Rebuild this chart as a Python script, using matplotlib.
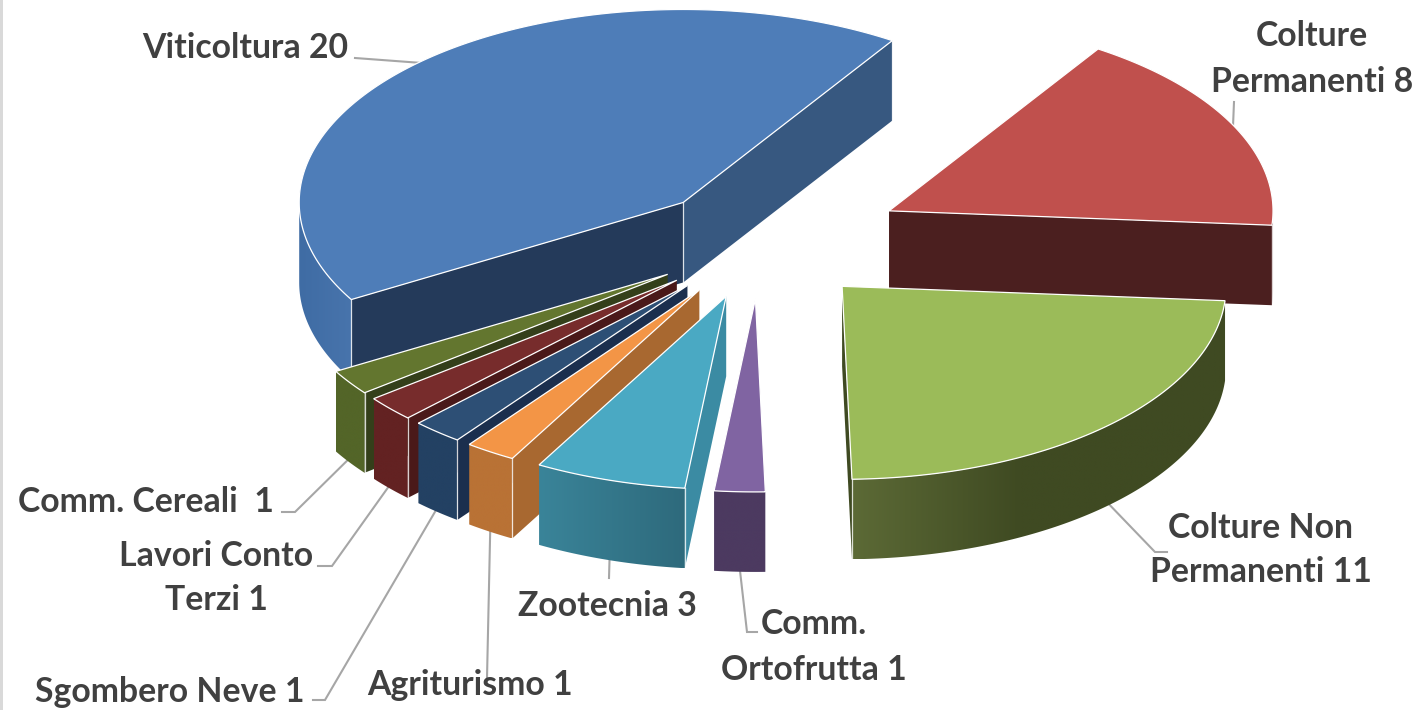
import numpy as np
import matplotlib
matplotlib.use('Agg')
import matplotlib.pyplot as plt
from matplotlib.colors import to_rgb
from matplotlib.patches import Polygon

# values, clockwise starting from Viticoltura
names = ['Viticoltura', 'Colture Permanenti', 'Colture Non Permanenti', 'Comm. Ortofrutta',
         'Zootecnia', 'Agriturismo', 'Sgombero Neve', 'Lavori Conto Terzi', 'Comm. Cereali']
values = [20, 8, 11, 1, 3, 1, 1, 1, 1]
explode = [0.29, 0.375, 0.31, 0.29, 0.29, 0.29, 0.29, 0.29, 0.29]

top_colors = ['#4e7db8', '#c0504d', '#9bbb59', '#8064a2', '#4aa9c3', '#f39546', '#2d4f75', '#772c2c', '#63762f']
# wall colour at its left and right end, and how much of the width the change takes
wall_left = ['#3f6ca4', '#4b1f1f', '#5c6a36', '#4c3a60', '#3a8499', '#b97235', '#234163', '#632222', '#536528']
wall_right = ['#4874ac', '#4b1f1f', '#3f4a22', '#4c3a60', '#2e6a7c', '#b97235', '#234163', '#632222', '#536528']
wall_fade = [1, 1, 0.45, 1, 1, 1, 1, 1, 1]
face_a = ['#243a5a', '#4b1f1f', '#4b1f1f', '#4c3a60', '#3b8ba3', '#a86830', '#1b2f4e', '#4a1919', '#343f1a']
face_b = ['#375880', '#4b1f1f', '#3f4a22', '#4c3a60', '#3b8ba3', '#a86830', '#1b2f4e', '#4a1919', '#343f1a']

# pie geometry in pixels of the output picture
CX, CY = 760, 243
RX, RY = 384, 193
DEPTH = 80
START = 210.2
draw_order = [0, 1, 2, 8, 7, 6, 5, 4, 3]

# label text, its centre, and the leader line points after the rim point
labels = ['Viticoltura 20', 'Colture\nPermanenti 8', 'Colture Non\nPermanenti 11', 'Comm.\nOrtofrutta 1',
          'Zootecnia 3', 'Agriturismo 1', 'Sgombero Neve 1', 'Lavori Conto\nTerzi 1', 'Comm. Cereali  1']
label_x = [245, 1312, 1261, 814, 607, 470, 170, 216, 146]
label_y = [48, 59, 550, 647, 606, 685, 692, 578, 502]
leader_pts = [[(355, 58)], [(1234, 102)], [(1155, 552), (1167, 552)], [(747, 632), (757, 632)],
              [(609, 578)], [(487, 678)], [(325, 700), (313, 700)], [(332, 566), (318, 566)],
              [(295, 512), (282, 512)]]

plt.rcParams['font.family'] = ['Lato', 'DejaVu Sans']


def rim(apex, t):
    t = np.radians(t)
    return apex[0] + RX * np.cos(t), apex[1] - RY * np.sin(t)


def draw_wall(ax, i, apex, ts, z):
    xs, ys = rim(apex, ts)
    outline = np.r_[np.c_[xs, ys], np.c_[xs[::-1], ys[::-1] + DEPTH]]
    frac = np.clip(np.linspace(0, 1, 256) / wall_fade[i], 0, 1)[None, :, None]
    c0, c1 = np.array(to_rgb(wall_left[i])), np.array(to_rgb(wall_right[i]))
    img = c0 + (c1 - c0) * frac
    im = ax.imshow(img, extent=(xs.min(), xs.max(), ys.max() + DEPTH, ys.min()), aspect='auto',
                   interpolation='bilinear', zorder=z)
    im.set_clip_path(Polygon(outline, transform=ax.transData))


def main():
    fig = plt.figure(figsize=(14.23, 7.10), dpi=100)
    ax = fig.add_axes([0, 0, 1, 1])
    ax.axis('off')

    # grey strip down the left edge
    ax.fill([0, 3, 3, 0], [0, 0, 710, 710], color='#d9d9d9', lw=0, zorder=5)

    spans = np.array(values) / sum(values) * 360
    ends = START - np.cumsum(spans)
    starts = ends + spans
    mids = (starts + ends) / 2

    apexes = [(CX + e * RX * np.cos(np.radians(m)), CY - e * RY * np.sin(np.radians(m)))
              for e, m in zip(explode, mids)]

    # leader lines sit under the slices
    for i in range(len(values)):
        x, y = rim(apexes[i], mids[i])
        if np.sin(np.radians(mids[i])) < 0:
            y += DEPTH - 4
        pts = [(x, y)] + leader_pts[i]
        ax.plot([p[0] for p in pts], [p[1] for p in pts], color='#a6a6a6', lw=1.5, zorder=1,
                solid_joinstyle='miter')

    z = 2
    for i in draw_order:
        a, b = starts[i], ends[i]
        apex = apexes[i]

        # cut faces that look towards the viewer
        show_a = np.cos(np.radians(a)) < 0
        show_b = np.cos(np.radians(b)) > 0
        for t, col, visible in ((a, face_a[i], show_a), (b, face_b[i], show_b)):
            if not visible:
                continue
            rx, ry = rim(apex, t)
            ax.fill([apex[0], rx, rx, apex[0]], [apex[1], ry, ry + DEPTH, apex[1] + DEPTH],
                    color=col, lw=0, zorder=z)
            ax.plot([rx, rx], [ry, ry + DEPTH], color='white', lw=0.9, alpha=0.8, zorder=z + 2)
        if show_a and show_b:
            ax.plot([apex[0], apex[0]], [apex[1], apex[1] + DEPTH], color='white', lw=0.9, alpha=0.8, zorder=z + 2)

        # outer wall, only the front half of the rim
        ts = np.linspace(a, b, 200)
        ts = ts[np.sin(np.radians(ts)) <= 0]
        if len(ts) > 1:
            draw_wall(ax, i, apex, ts, z + 1)

        # top of the slice
        ts = np.linspace(a, b, 200)
        xs, ys = rim(apex, ts)
        ax.fill(np.r_[apex[0], xs], np.r_[apex[1], ys], facecolor=top_colors[i], edgecolor='white',
                lw=0.9, joinstyle='miter', zorder=z + 3)
        z += 4

    for i, text in enumerate(labels):
        ax.text(label_x[i], label_y[i], text, ha='center', va='center', fontsize=24.3, fontweight='bold',
                color='#404040', linespacing=1.5, zorder=100)

    ax.set_xlim(0, 1423)
    ax.set_ylim(710, 0)
    fig.savefig('out.png', dpi=100)


if __name__ == "__main__":
    main()
